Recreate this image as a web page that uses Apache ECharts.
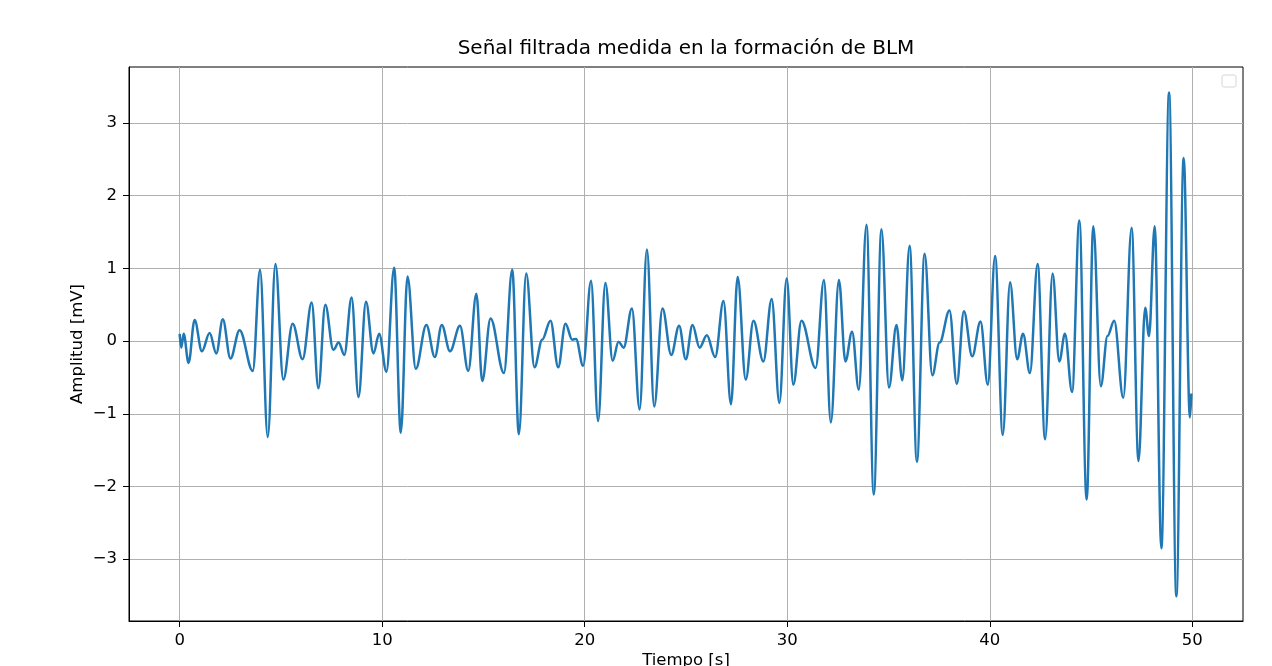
<!DOCTYPE html>
<html>
<head>
<meta charset="utf-8">
<title>Señal filtrada</title>
<script src="https://cdn.jsdelivr.net/npm/echarts@6/dist/echarts.min.js"></script>
<style>
  html, body { margin: 0; padding: 0; background: #fff; }
  #chart { width: 1272px; height: 666px; }
</style>
</head>
<body>
<div id="chart"></div>
<script>
// extrema of the filtered signal (time in s)
const tiempo = [
  0, 0.08, 0.2, 0.44, 0.74, 1.1, 1.48, 1.81, 2.13, 2.51,
  2.96, 3.61, 3.97, 4.35, 4.73, 5.12, 5.58, 6.07, 6.52, 6.85,
  7.19, 7.59, 7.85, 8.13, 8.49, 8.83, 9.2, 9.57, 9.85, 10.21,
  10.59, 10.92, 11.25, 11.66, 12.18, 12.6, 12.94, 13.35, 13.84, 14.25,
  14.65, 14.94, 15.35, 16.01, 16.42, 16.75, 17.11, 17.52, 17.9, 18.31,
  18.69, 19.05, 19.38, 19.57, 19.92, 20.31, 20.66, 21.02, 21.38, 21.67,
  21.92, 22.33, 22.71, 23.07, 23.43, 23.84, 24.27, 24.66, 24.99, 25.32,
  25.67, 26.03, 26.44, 26.85, 27.22, 27.55, 27.95, 28.33, 28.82, 29.23,
  29.61, 29.97, 30.3, 30.7, 31.4, 31.81, 32.15, 32.55, 32.87, 33.2,
  33.53, 33.91, 34.27, 34.65, 35.02, 35.39, 35.68, 36.04, 36.4, 36.78,
  37.16, 37.52, 38.01, 38.37, 38.72, 39.13, 39.54, 39.9, 40.26, 40.64,
  41.0, 41.35, 41.64, 41.98, 42.36, 42.73, 43.1, 43.43, 43.71, 44.06,
  44.42, 44.78, 45.11, 45.48, 45.81, 46.14, 46.59, 47.0, 47.34, 47.67,
  47.86, 48.14, 48.47, 48.85, 49.21, 49.57, 49.88, 49.95
]

// amplitude in mV
const amplitud = [
  0.1, -0.09, 0.1, -0.3, 0.29, -0.14, 0.11, -0.17, 0.3, -0.24,
  0.15, -0.41, 0.98, -1.32, 1.06, -0.53, 0.24, -0.25, 0.53, -0.65,
  0.5, -0.12, -0.02, -0.19, 0.6, -0.77, 0.54, -0.17, 0.1, -0.42,
  1.01, -1.26, 0.89, -0.38, 0.22, -0.22, 0.22, -0.14, 0.21, -0.41,
  0.65, -0.55, 0.31, -0.44, 0.98, -1.28, 0.93, -0.36, 0.02, 0.28,
  -0.36, 0.24, 0.02, 0.03, -0.34, 0.83, -1.1, 0.8, -0.27, -0.01,
  -0.09, 0.45, -0.94, 1.26, -0.9, 0.45, -0.19, 0.21, -0.25, 0.22,
  -0.09, 0.08, -0.22, 0.55, -0.87, 0.88, -0.53, 0.28, -0.28, 0.58,
  -0.85, 0.86, -0.6, 0.28, -0.37, 0.84, -1.12, 0.84, -0.28, 0.13,
  -0.67, 1.6, -2.11, 1.54, -0.64, 0.22, -0.54, 1.31, -1.66, 1.2,
  -0.47, -0.02, 0.42, -0.59, 0.41, -0.21, 0.27, -0.6, 1.17, -1.29,
  0.81, -0.25, 0.1, -0.44, 1.06, -1.35, 0.93, -0.28, 0.1, -0.7,
  1.66, -2.18, 1.58, -0.62, 0.07, 0.28, -0.78, 1.56, -1.65, 0.46,
  0.07, 1.58, -2.85, 3.42, -3.51, 2.52, -1.05, -0.72
]

const xTicks = [0, 10, 20, 30, 40, 50]
const yTicks = [-3, -2, -1, 0, 1, 2, 3]

const font = 'DejaVu Sans'
const minus = v => String(v).replace('-', '\u2212')

const chart = echarts.init(document.getElementById('chart'))

chart.setOption({
  animation: false,
  title: {
    text: 'Señal filtrada medida en la formación de BLM',
    left: 686,
    textAlign: 'center',
    top: 39,
    padding: 0,
    textStyle: { fontFamily: font, fontSize: 20, fontWeight: 'normal', color: '#000' }
  },
  grid: {
    left: 129,
    right: 29,
    top: 67,
    bottom: 45,
    outerBoundsMode: 'none',
    containLabel: false,
    show: true,
    borderColor: '#000',
    borderWidth: 1
  },
  xAxis: {
    type: 'value',
    min: -2.5,
    max: 52.5,
    name: 'Tiempo [s]',
    nameLocation: 'middle',
    nameGap: 31,
    nameMoveOverlap: false,
    nameTextStyle: { fontFamily: font, fontSize: 16.5, color: '#000' },
    axisLine: { show: true, onZero: false, lineStyle: { color: '#000', width: 1 } },
    axisTick: { show: true, customValues: xTicks, length: 6, lineStyle: { color: '#000' } },
    axisLabel: {
      customValues: xTicks, margin: 11,
      fontFamily: font, fontSize: 16.5, color: '#000', formatter: minus
    },
    splitLine: { show: true, lineStyle: { color: '#b0b0b0', width: 1 } }
  },
  yAxis: {
    type: 'value',
    min: -3.85,
    max: 3.77,
    name: 'Amplitud [mV]',
    nameLocation: 'middle',
    nameGap: 43,
    nameMoveOverlap: false,
    nameTextStyle: { fontFamily: font, fontSize: 16.5, color: '#000' },
    axisLine: { show: true, onZero: false, lineStyle: { color: '#000', width: 1 } },
    axisTick: { show: true, customValues: yTicks, length: 6, lineStyle: { color: '#000' } },
    axisLabel: {
      customValues: yTicks, margin: 12,
      fontFamily: font, fontSize: 16.5, color: '#000', formatter: minus
    },
    splitLine: { show: true, lineStyle: { color: '#b0b0b0', width: 1 } }
  },
  graphic: [{
    // empty legend frame, top right
    type: 'rect',
    shape: { x: 1222, y: 75, width: 14, height: 12, r: 2 },
    style: { fill: '#fff', stroke: '#d6d6d6', lineWidth: 1 }
  }],
  series: [{
    type: 'line',
    data: tiempo.map((t, i) => [t, amplitud[i]]),
    showSymbol: false,
    smooth: 0.36,
    smoothMonotone: 'x',
    lineStyle: { color: '#1f77b4', width: 2.5 },
    itemStyle: { color: '#1f77b4' }
  }]
})
</script>
</body>
</html>
